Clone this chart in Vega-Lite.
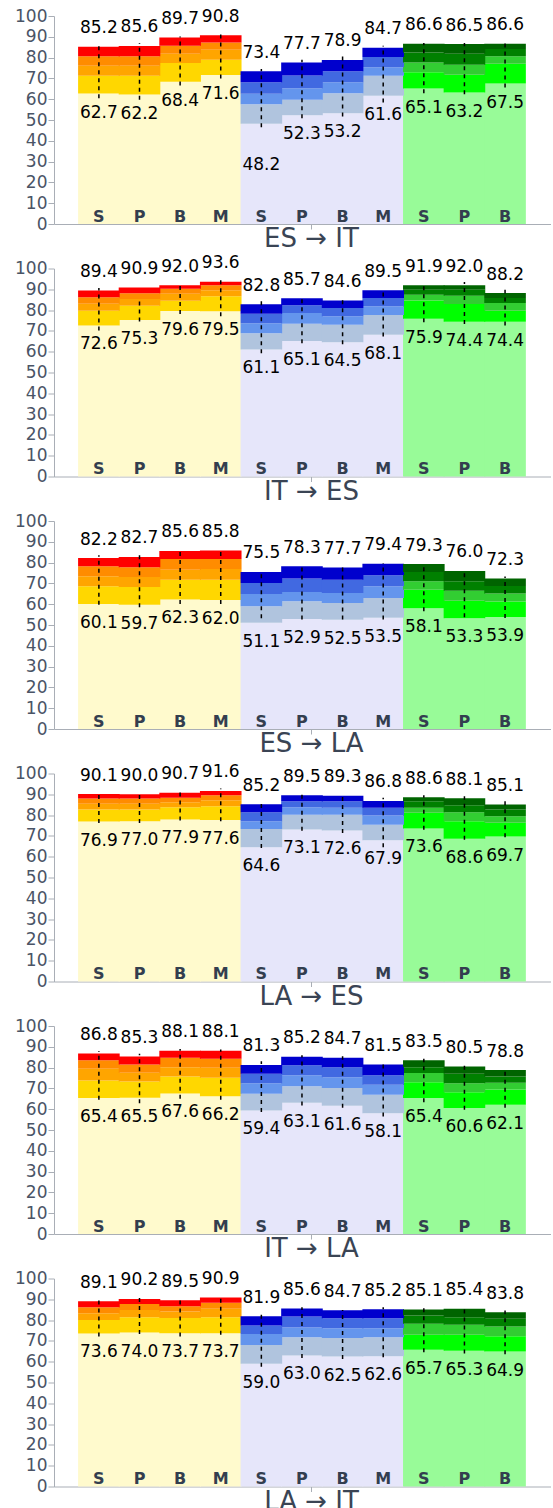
{
"$schema": "https://vega.github.io/schema/vega-lite/v6.json",
"padding": {"left": 14, "top": 7, "right": 0, "bottom": 0},
"background": "white",
"bounds": "flush",
"spacing": 44.5,
"datasets": {"d": [
{"p":0,"i":0,"g":"Y","s":"S","a":62.7,"b":71.3,"c":76.1,"d":80.6,"e":85.2,"l":60.5,"h":85.7},
{"p":0,"i":1,"g":"Y","s":"P","a":62.2,"b":71.3,"c":76.1,"d":80.6,"e":85.6,"l":59.7,"h":87.0},
{"p":0,"i":2,"g":"Y","s":"B","a":68.4,"b":77.4,"c":81.9,"d":85.7,"e":89.7,"l":66.6,"h":90.2},
{"p":0,"i":3,"g":"Y","s":"M","a":71.6,"b":79.0,"c":83.8,"d":87.3,"e":90.8,"l":70.0,"h":92.0},
{"p":0,"i":4,"g":"B","s":"S","a":48.2,"b":57.6,"c":62.6,"d":68.1,"e":73.4,"l":46.5,"h":74.5},
{"p":0,"i":5,"g":"B","s":"P","a":52.3,"b":59.7,"c":65.3,"d":71.4,"e":77.7,"l":50.9,"h":79.0},
{"p":0,"i":6,"g":"B","s":"B","a":53.2,"b":62.9,"c":68.1,"d":73.4,"e":78.9,"l":51.7,"h":82.5},
{"p":0,"i":7,"g":"B","s":"M","a":61.6,"b":71.3,"c":75.4,"d":80.3,"e":84.7,"l":58.4,"h":85.7},
{"p":0,"i":8,"g":"G","s":"S","a":65.1,"b":72.9,"c":77.7,"d":82.5,"e":86.6,"l":62.9,"h":87.0},
{"p":0,"i":9,"g":"G","s":"P","a":63.2,"b":71.7,"c":76.6,"d":81.9,"e":86.5,"l":62.4,"h":87.0},
{"p":0,"i":10,"g":"G","s":"B","a":67.5,"b":77.0,"c":80.6,"d":84.1,"e":86.6,"l":65.6,"h":87.0},
{"p":1,"i":0,"g":"Y","s":"S","a":72.6,"b":79.7,"c":83.1,"d":86.2,"e":89.4,"l":70.2,"h":90.6},
{"p":1,"i":1,"g":"Y","s":"P","a":75.3,"b":82.1,"c":85.3,"d":88.1,"e":90.9,"l":74.5,"h":85.8},
{"p":1,"i":2,"g":"Y","s":"B","a":79.6,"b":84.5,"c":87.9,"d":90.3,"e":92.0,"l":78.1,"h":92.5},
{"p":1,"i":3,"g":"Y","s":"M","a":79.5,"b":86.6,"c":89.5,"d":91.9,"e":93.6,"l":77.0,"h":94.6},
{"p":1,"i":4,"g":"B","s":"S","a":61.1,"b":68.9,"c":73.7,"d":78.2,"e":82.8,"l":59.3,"h":84.5},
{"p":1,"i":5,"g":"B","s":"P","a":65.1,"b":73.4,"c":78.6,"d":82.3,"e":85.7,"l":64.1,"h":86.6},
{"p":1,"i":6,"g":"B","s":"B","a":64.5,"b":73.0,"c":77.0,"d":81.0,"e":84.6,"l":63.6,"h":85.5},
{"p":1,"i":7,"g":"B","s":"M","a":68.1,"b":77.7,"c":81.8,"d":85.8,"e":89.5,"l":67.3,"h":90.3},
{"p":1,"i":8,"g":"G","s":"S","a":75.9,"b":84.6,"c":87.4,"d":89.8,"e":91.9,"l":74.2,"h":93.0},
{"p":1,"i":9,"g":"G","s":"P","a":74.4,"b":82.9,"c":86.9,"d":89.8,"e":92.0,"l":73.3,"h":93.5},
{"p":1,"i":10,"g":"G","s":"B","a":74.4,"b":79.7,"c":83.4,"d":85.8,"e":88.2,"l":72.6,"h":89.8},
{"p":2,"i":0,"g":"Y","s":"S","a":60.1,"b":68.6,"c":73.4,"d":78.2,"e":82.2,"l":59.7,"h":83.5},
{"p":2,"i":1,"g":"Y","s":"P","a":59.7,"b":68.3,"c":73.1,"d":77.8,"e":82.7,"l":58.5,"h":84.2},
{"p":2,"i":2,"g":"Y","s":"B","a":62.3,"b":71.8,"c":76.6,"d":81.7,"e":85.6,"l":60.1,"h":87.0},
{"p":2,"i":3,"g":"Y","s":"M","a":62.0,"b":71.8,"c":76.9,"d":81.7,"e":85.8,"l":60.1,"h":87.0},
{"p":2,"i":4,"g":"B","s":"S","a":51.1,"b":59.0,"c":64.9,"d":70.2,"e":75.5,"l":53.3,"h":74.5},
{"p":2,"i":5,"g":"B","s":"P","a":52.9,"b":61.4,"c":65.9,"d":72.3,"e":78.3,"l":52.6,"h":79.4},
{"p":2,"i":6,"g":"B","s":"B","a":52.5,"b":60.6,"c":65.4,"d":71.8,"e":77.7,"l":52.6,"h":79.0},
{"p":2,"i":7,"g":"B","s":"M","a":53.5,"b":63.0,"c":68.6,"d":73.9,"e":79.4,"l":52.6,"h":79.8},
{"p":2,"i":8,"g":"G","s":"S","a":58.1,"b":67.0,"c":71.0,"d":75.5,"e":79.3,"l":56.6,"h":79.4},
{"p":2,"i":9,"g":"G","s":"P","a":53.3,"b":61.7,"c":66.5,"d":71.0,"e":76.0,"l":53.7,"h":76.6},
{"p":2,"i":10,"g":"G","s":"B","a":53.9,"b":61.3,"c":65.1,"d":68.8,"e":72.3,"l":53.4,"h":73.3},
{"p":3,"i":0,"g":"Y","s":"S","a":76.9,"b":82.7,"c":85.4,"d":88.0,"e":90.1,"l":76.2,"h":91.5},
{"p":3,"i":1,"g":"Y","s":"P","a":77.0,"b":82.7,"c":85.4,"d":88.0,"e":90.0,"l":76.2,"h":91.2},
{"p":3,"i":2,"g":"Y","s":"B","a":77.9,"b":83.8,"c":86.2,"d":88.3,"e":90.7,"l":77.4,"h":91.5},
{"p":3,"i":3,"g":"Y","s":"M","a":77.6,"b":84.3,"c":87.1,"d":89.6,"e":91.6,"l":77.0,"h":92.8},
{"p":3,"i":4,"g":"B","s":"S","a":64.6,"b":73.3,"c":77.0,"d":81.4,"e":85.2,"l":64.2,"h":86.7},
{"p":3,"i":5,"g":"B","s":"P","a":73.1,"b":80.2,"c":83.8,"d":86.7,"e":89.5,"l":72.5,"h":90.7},
{"p":3,"i":6,"g":"B","s":"B","a":72.6,"b":80.2,"c":83.5,"d":86.7,"e":89.3,"l":71.4,"h":90.2},
{"p":3,"i":7,"g":"B","s":"M","a":67.9,"b":75.4,"c":79.8,"d":83.5,"e":86.8,"l":64.5,"h":88.3},
{"p":3,"i":8,"g":"G","s":"S","a":73.6,"b":81.1,"c":83.5,"d":86.7,"e":88.6,"l":73.0,"h":89.6},
{"p":3,"i":9,"g":"G","s":"P","a":68.6,"b":77.0,"c":81.4,"d":84.7,"e":88.1,"l":68.2,"h":89.1},
{"p":3,"i":10,"g":"G","s":"B","a":69.7,"b":76.3,"c":79.5,"d":82.7,"e":85.1,"l":69.3,"h":86.7},
{"p":4,"i":0,"g":"Y","s":"S","a":65.4,"b":73.8,"c":79.4,"d":83.5,"e":86.8,"l":64.5,"h":88.0},
{"p":4,"i":1,"g":"Y","s":"P","a":65.5,"b":73.3,"c":77.5,"d":81.5,"e":85.3,"l":62.9,"h":86.7},
{"p":4,"i":2,"g":"Y","s":"B","a":67.6,"b":75.7,"c":80.2,"d":84.7,"e":88.1,"l":65.0,"h":89.0},
{"p":4,"i":3,"g":"Y","s":"M","a":66.2,"b":75.1,"c":79.9,"d":84.3,"e":88.1,"l":64.5,"h":88.7},
{"p":4,"i":4,"g":"B","s":"S","a":59.4,"b":67.4,"c":72.5,"d":77.0,"e":81.3,"l":58.6,"h":83.1},
{"p":4,"i":5,"g":"B","s":"P","a":63.1,"b":71.0,"c":76.3,"d":81.1,"e":85.2,"l":61.8,"h":85.9},
{"p":4,"i":6,"g":"B","s":"B","a":61.6,"b":70.2,"c":75.4,"d":80.2,"e":84.7,"l":60.7,"h":85.4},
{"p":4,"i":7,"g":"B","s":"M","a":58.1,"b":66.9,"c":71.7,"d":76.3,"e":81.5,"l":56.5,"h":82.7},
{"p":4,"i":8,"g":"G","s":"S","a":65.4,"b":73.0,"c":77.4,"d":80.2,"e":83.5,"l":63.4,"h":84.3},
{"p":4,"i":9,"g":"G","s":"P","a":60.6,"b":68.2,"c":72.5,"d":77.0,"e":80.5,"l":59.7,"h":81.0},
{"p":4,"i":10,"g":"G","s":"B","a":62.1,"b":69.5,"c":72.7,"d":75.7,"e":78.8,"l":60.7,"h":79.0},
{"p":5,"i":0,"g":"Y","s":"S","a":73.6,"b":80.1,"c":83.3,"d":86.2,"e":89.1,"l":72.1,"h":89.7},
{"p":5,"i":1,"g":"Y","s":"P","a":74.0,"b":81.4,"c":84.9,"d":87.8,"e":90.2,"l":73.3,"h":91.0},
{"p":5,"i":2,"g":"Y","s":"B","a":73.7,"b":81.0,"c":84.1,"d":86.7,"e":89.5,"l":72.1,"h":90.7},
{"p":5,"i":3,"g":"Y","s":"M","a":73.7,"b":81.4,"c":85.4,"d":88.3,"e":90.9,"l":73.0,"h":91.3},
{"p":5,"i":4,"g":"B","s":"S","a":59.0,"b":68.0,"c":73.3,"d":77.4,"e":81.9,"l":57.6,"h":83.0},
{"p":5,"i":5,"g":"B","s":"P","a":63.0,"b":71.7,"c":76.5,"d":81.7,"e":85.6,"l":61.8,"h":86.2},
{"p":5,"i":6,"g":"B","s":"B","a":62.5,"b":71.4,"c":76.1,"d":80.9,"e":84.7,"l":61.3,"h":84.9},
{"p":5,"i":7,"g":"B","s":"M","a":62.6,"b":71.7,"c":76.1,"d":80.9,"e":85.2,"l":62.1,"h":86.2},
{"p":5,"i":8,"g":"G","s":"S","a":65.7,"b":72.9,"c":78.2,"d":82.2,"e":85.1,"l":64.5,"h":86.2},
{"p":5,"i":9,"g":"G","s":"P","a":65.3,"b":72.9,"c":77.8,"d":81.4,"e":85.4,"l":64.0,"h":86.2},
{"p":5,"i":10,"g":"G","s":"B","a":64.9,"b":72.2,"c":76.9,"d":80.7,"e":83.8,"l":63.6,"h":84.6}
]},
"vconcat": [
{"width": 497, "height": 208, "data": {"name": "d"}, "transform": [{"filter": "datum.p == 0"}],
 "encoding": {"x": {"field": "i", "type": "quantitative", "scale": {"domain": [-0.982, 11.008], "nice": false, "zero": false}, "axis": {"values": [5.218], "title": "ES → IT"}}},
 "layer": [
  {"mark": {"type": "bar", "width": 41.6}, "encoding": {"y": {"field": "a", "type": "quantitative", "scale": {"domain": [0, 100], "nice": false}, "title": null}, "y2": {"datum": 0}, "color": {"condition": [{"test": "datum.g == 'Y'", "value": "#FFFACD"}, {"test": "datum.g == 'B'", "value": "#E6E6FA"}], "value": "#98FB98"}}},
  {"mark": {"type": "bar", "width": 41.6}, "encoding": {"y": {"field": "b", "type": "quantitative", "scale": {"domain": [0, 100], "nice": false}, "title": null}, "y2": {"field": "a"}, "color": {"condition": [{"test": "datum.g == 'Y'", "value": "#FFD700"}, {"test": "datum.g == 'B'", "value": "#B0C4DE"}], "value": "#00FF00"}}},
  {"mark": {"type": "bar", "width": 41.6}, "encoding": {"y": {"field": "c", "type": "quantitative", "scale": {"domain": [0, 100], "nice": false}, "title": null}, "y2": {"field": "b"}, "color": {"condition": [{"test": "datum.g == 'Y'", "value": "#FFA500"}, {"test": "datum.g == 'B'", "value": "#6495ED"}], "value": "#32CD32"}}},
  {"mark": {"type": "bar", "width": 41.6}, "encoding": {"y": {"field": "d", "type": "quantitative", "scale": {"domain": [0, 100], "nice": false}, "title": null}, "y2": {"field": "c"}, "color": {"condition": [{"test": "datum.g == 'Y'", "value": "#FF8C00"}, {"test": "datum.g == 'B'", "value": "#4169E1"}], "value": "#008000"}}},
  {"mark": {"type": "bar", "width": 41.6}, "encoding": {"y": {"field": "e", "type": "quantitative", "scale": {"domain": [0, 100], "nice": false}, "title": null}, "y2": {"field": "d"}, "color": {"condition": [{"test": "datum.g == 'Y'", "value": "#FF0000"}, {"test": "datum.g == 'B'", "value": "#0000CD"}], "value": "#006400"}}},
  {"mark": {"type": "rule", "strokeDash": [4, 4], "strokeWidth": 1.5, "color": "black"}, "encoding": {"y": {"field": "l", "type": "quantitative", "scale": {"domain": [0, 100], "nice": false}, "title": null}, "y2": {"field": "h"}}},
  {"mark": {"type": "text", "baseline": "middle", "dy": -18.5, "fontSize": 17, "color": "black"}, "encoding": {"y": {"field": "e", "type": "quantitative", "scale": {"domain": [0, 100], "nice": false}, "title": null}, "text": {"field": "e", "type": "quantitative", "format": ".1f"}}},
  {"transform": [{"filter": "!(datum.p == 0 && datum.i == 4)"}], "mark": {"type": "text", "baseline": "middle", "dy": 19, "fontSize": 17, "color": "black"}, "encoding": {"y": {"field": "a", "type": "quantitative", "scale": {"domain": [0, 100], "nice": false}, "title": null}, "text": {"field": "a", "type": "quantitative", "format": ".1f"}}},
  {"transform": [{"filter": "datum.p == 0 && datum.i == 4"}], "mark": {"type": "text", "baseline": "middle", "dy": 41, "fontSize": 17, "color": "black"}, "encoding": {"y": {"field": "a", "type": "quantitative", "scale": {"domain": [0, 100], "nice": false}, "title": null}, "text": {"field": "a", "type": "quantitative", "format": ".1f"}}},
  {"mark": {"type": "text", "baseline": "middle", "dy": -7.5, "fontSize": 16, "fontWeight": "bold", "color": "#333e4f"}, "encoding": {"y": {"datum": 0, "type": "quantitative", "scale": {"domain": [0, 100], "nice": false}, "title": null}, "text": {"field": "s"}}}
 ]},
{"width": 497, "height": 208, "data": {"name": "d"}, "transform": [{"filter": "datum.p == 1"}],
 "encoding": {"x": {"field": "i", "type": "quantitative", "scale": {"domain": [-0.982, 11.008], "nice": false, "zero": false}, "axis": {"values": [5.218], "title": "IT → ES"}}},
 "layer": [
  {"mark": {"type": "bar", "width": 41.6}, "encoding": {"y": {"field": "a", "type": "quantitative", "scale": {"domain": [0, 100], "nice": false}, "title": null}, "y2": {"datum": 0}, "color": {"condition": [{"test": "datum.g == 'Y'", "value": "#FFFACD"}, {"test": "datum.g == 'B'", "value": "#E6E6FA"}], "value": "#98FB98"}}},
  {"mark": {"type": "bar", "width": 41.6}, "encoding": {"y": {"field": "b", "type": "quantitative", "scale": {"domain": [0, 100], "nice": false}, "title": null}, "y2": {"field": "a"}, "color": {"condition": [{"test": "datum.g == 'Y'", "value": "#FFD700"}, {"test": "datum.g == 'B'", "value": "#B0C4DE"}], "value": "#00FF00"}}},
  {"mark": {"type": "bar", "width": 41.6}, "encoding": {"y": {"field": "c", "type": "quantitative", "scale": {"domain": [0, 100], "nice": false}, "title": null}, "y2": {"field": "b"}, "color": {"condition": [{"test": "datum.g == 'Y'", "value": "#FFA500"}, {"test": "datum.g == 'B'", "value": "#6495ED"}], "value": "#32CD32"}}},
  {"mark": {"type": "bar", "width": 41.6}, "encoding": {"y": {"field": "d", "type": "quantitative", "scale": {"domain": [0, 100], "nice": false}, "title": null}, "y2": {"field": "c"}, "color": {"condition": [{"test": "datum.g == 'Y'", "value": "#FF8C00"}, {"test": "datum.g == 'B'", "value": "#4169E1"}], "value": "#008000"}}},
  {"mark": {"type": "bar", "width": 41.6}, "encoding": {"y": {"field": "e", "type": "quantitative", "scale": {"domain": [0, 100], "nice": false}, "title": null}, "y2": {"field": "d"}, "color": {"condition": [{"test": "datum.g == 'Y'", "value": "#FF0000"}, {"test": "datum.g == 'B'", "value": "#0000CD"}], "value": "#006400"}}},
  {"mark": {"type": "rule", "strokeDash": [4, 4], "strokeWidth": 1.5, "color": "black"}, "encoding": {"y": {"field": "l", "type": "quantitative", "scale": {"domain": [0, 100], "nice": false}, "title": null}, "y2": {"field": "h"}}},
  {"mark": {"type": "text", "baseline": "middle", "dy": -18.5, "fontSize": 17, "color": "black"}, "encoding": {"y": {"field": "e", "type": "quantitative", "scale": {"domain": [0, 100], "nice": false}, "title": null}, "text": {"field": "e", "type": "quantitative", "format": ".1f"}}},
  {"mark": {"type": "text", "baseline": "middle", "dy": 19, "fontSize": 17, "color": "black"}, "encoding": {"y": {"field": "a", "type": "quantitative", "scale": {"domain": [0, 100], "nice": false}, "title": null}, "text": {"field": "a", "type": "quantitative", "format": ".1f"}}},
  {"mark": {"type": "text", "baseline": "middle", "dy": -7.5, "fontSize": 16, "fontWeight": "bold", "color": "#333e4f"}, "encoding": {"y": {"datum": 0, "type": "quantitative", "scale": {"domain": [0, 100], "nice": false}, "title": null}, "text": {"field": "s"}}}
 ]},
{"width": 497, "height": 208, "data": {"name": "d"}, "transform": [{"filter": "datum.p == 2"}],
 "encoding": {"x": {"field": "i", "type": "quantitative", "scale": {"domain": [-0.982, 11.008], "nice": false, "zero": false}, "axis": {"values": [5.218], "title": "ES → LA"}}},
 "layer": [
  {"mark": {"type": "bar", "width": 41.6}, "encoding": {"y": {"field": "a", "type": "quantitative", "scale": {"domain": [0, 100], "nice": false}, "title": null}, "y2": {"datum": 0}, "color": {"condition": [{"test": "datum.g == 'Y'", "value": "#FFFACD"}, {"test": "datum.g == 'B'", "value": "#E6E6FA"}], "value": "#98FB98"}}},
  {"mark": {"type": "bar", "width": 41.6}, "encoding": {"y": {"field": "b", "type": "quantitative", "scale": {"domain": [0, 100], "nice": false}, "title": null}, "y2": {"field": "a"}, "color": {"condition": [{"test": "datum.g == 'Y'", "value": "#FFD700"}, {"test": "datum.g == 'B'", "value": "#B0C4DE"}], "value": "#00FF00"}}},
  {"mark": {"type": "bar", "width": 41.6}, "encoding": {"y": {"field": "c", "type": "quantitative", "scale": {"domain": [0, 100], "nice": false}, "title": null}, "y2": {"field": "b"}, "color": {"condition": [{"test": "datum.g == 'Y'", "value": "#FFA500"}, {"test": "datum.g == 'B'", "value": "#6495ED"}], "value": "#32CD32"}}},
  {"mark": {"type": "bar", "width": 41.6}, "encoding": {"y": {"field": "d", "type": "quantitative", "scale": {"domain": [0, 100], "nice": false}, "title": null}, "y2": {"field": "c"}, "color": {"condition": [{"test": "datum.g == 'Y'", "value": "#FF8C00"}, {"test": "datum.g == 'B'", "value": "#4169E1"}], "value": "#008000"}}},
  {"mark": {"type": "bar", "width": 41.6}, "encoding": {"y": {"field": "e", "type": "quantitative", "scale": {"domain": [0, 100], "nice": false}, "title": null}, "y2": {"field": "d"}, "color": {"condition": [{"test": "datum.g == 'Y'", "value": "#FF0000"}, {"test": "datum.g == 'B'", "value": "#0000CD"}], "value": "#006400"}}},
  {"mark": {"type": "rule", "strokeDash": [4, 4], "strokeWidth": 1.5, "color": "black"}, "encoding": {"y": {"field": "l", "type": "quantitative", "scale": {"domain": [0, 100], "nice": false}, "title": null}, "y2": {"field": "h"}}},
  {"mark": {"type": "text", "baseline": "middle", "dy": -18.5, "fontSize": 17, "color": "black"}, "encoding": {"y": {"field": "e", "type": "quantitative", "scale": {"domain": [0, 100], "nice": false}, "title": null}, "text": {"field": "e", "type": "quantitative", "format": ".1f"}}},
  {"mark": {"type": "text", "baseline": "middle", "dy": 19, "fontSize": 17, "color": "black"}, "encoding": {"y": {"field": "a", "type": "quantitative", "scale": {"domain": [0, 100], "nice": false}, "title": null}, "text": {"field": "a", "type": "quantitative", "format": ".1f"}}},
  {"mark": {"type": "text", "baseline": "middle", "dy": -7.5, "fontSize": 16, "fontWeight": "bold", "color": "#333e4f"}, "encoding": {"y": {"datum": 0, "type": "quantitative", "scale": {"domain": [0, 100], "nice": false}, "title": null}, "text": {"field": "s"}}}
 ]},
{"width": 497, "height": 208, "data": {"name": "d"}, "transform": [{"filter": "datum.p == 3"}],
 "encoding": {"x": {"field": "i", "type": "quantitative", "scale": {"domain": [-0.982, 11.008], "nice": false, "zero": false}, "axis": {"values": [5.218], "title": "LA → ES"}}},
 "layer": [
  {"mark": {"type": "bar", "width": 41.6}, "encoding": {"y": {"field": "a", "type": "quantitative", "scale": {"domain": [0, 100], "nice": false}, "title": null}, "y2": {"datum": 0}, "color": {"condition": [{"test": "datum.g == 'Y'", "value": "#FFFACD"}, {"test": "datum.g == 'B'", "value": "#E6E6FA"}], "value": "#98FB98"}}},
  {"mark": {"type": "bar", "width": 41.6}, "encoding": {"y": {"field": "b", "type": "quantitative", "scale": {"domain": [0, 100], "nice": false}, "title": null}, "y2": {"field": "a"}, "color": {"condition": [{"test": "datum.g == 'Y'", "value": "#FFD700"}, {"test": "datum.g == 'B'", "value": "#B0C4DE"}], "value": "#00FF00"}}},
  {"mark": {"type": "bar", "width": 41.6}, "encoding": {"y": {"field": "c", "type": "quantitative", "scale": {"domain": [0, 100], "nice": false}, "title": null}, "y2": {"field": "b"}, "color": {"condition": [{"test": "datum.g == 'Y'", "value": "#FFA500"}, {"test": "datum.g == 'B'", "value": "#6495ED"}], "value": "#32CD32"}}},
  {"mark": {"type": "bar", "width": 41.6}, "encoding": {"y": {"field": "d", "type": "quantitative", "scale": {"domain": [0, 100], "nice": false}, "title": null}, "y2": {"field": "c"}, "color": {"condition": [{"test": "datum.g == 'Y'", "value": "#FF8C00"}, {"test": "datum.g == 'B'", "value": "#4169E1"}], "value": "#008000"}}},
  {"mark": {"type": "bar", "width": 41.6}, "encoding": {"y": {"field": "e", "type": "quantitative", "scale": {"domain": [0, 100], "nice": false}, "title": null}, "y2": {"field": "d"}, "color": {"condition": [{"test": "datum.g == 'Y'", "value": "#FF0000"}, {"test": "datum.g == 'B'", "value": "#0000CD"}], "value": "#006400"}}},
  {"mark": {"type": "rule", "strokeDash": [4, 4], "strokeWidth": 1.5, "color": "black"}, "encoding": {"y": {"field": "l", "type": "quantitative", "scale": {"domain": [0, 100], "nice": false}, "title": null}, "y2": {"field": "h"}}},
  {"mark": {"type": "text", "baseline": "middle", "dy": -18.5, "fontSize": 17, "color": "black"}, "encoding": {"y": {"field": "e", "type": "quantitative", "scale": {"domain": [0, 100], "nice": false}, "title": null}, "text": {"field": "e", "type": "quantitative", "format": ".1f"}}},
  {"mark": {"type": "text", "baseline": "middle", "dy": 19, "fontSize": 17, "color": "black"}, "encoding": {"y": {"field": "a", "type": "quantitative", "scale": {"domain": [0, 100], "nice": false}, "title": null}, "text": {"field": "a", "type": "quantitative", "format": ".1f"}}},
  {"mark": {"type": "text", "baseline": "middle", "dy": -7.5, "fontSize": 16, "fontWeight": "bold", "color": "#333e4f"}, "encoding": {"y": {"datum": 0, "type": "quantitative", "scale": {"domain": [0, 100], "nice": false}, "title": null}, "text": {"field": "s"}}}
 ]},
{"width": 497, "height": 208, "data": {"name": "d"}, "transform": [{"filter": "datum.p == 4"}],
 "encoding": {"x": {"field": "i", "type": "quantitative", "scale": {"domain": [-0.982, 11.008], "nice": false, "zero": false}, "axis": {"values": [5.218], "title": "IT → LA"}}},
 "layer": [
  {"mark": {"type": "bar", "width": 41.6}, "encoding": {"y": {"field": "a", "type": "quantitative", "scale": {"domain": [0, 100], "nice": false}, "title": null}, "y2": {"datum": 0}, "color": {"condition": [{"test": "datum.g == 'Y'", "value": "#FFFACD"}, {"test": "datum.g == 'B'", "value": "#E6E6FA"}], "value": "#98FB98"}}},
  {"mark": {"type": "bar", "width": 41.6}, "encoding": {"y": {"field": "b", "type": "quantitative", "scale": {"domain": [0, 100], "nice": false}, "title": null}, "y2": {"field": "a"}, "color": {"condition": [{"test": "datum.g == 'Y'", "value": "#FFD700"}, {"test": "datum.g == 'B'", "value": "#B0C4DE"}], "value": "#00FF00"}}},
  {"mark": {"type": "bar", "width": 41.6}, "encoding": {"y": {"field": "c", "type": "quantitative", "scale": {"domain": [0, 100], "nice": false}, "title": null}, "y2": {"field": "b"}, "color": {"condition": [{"test": "datum.g == 'Y'", "value": "#FFA500"}, {"test": "datum.g == 'B'", "value": "#6495ED"}], "value": "#32CD32"}}},
  {"mark": {"type": "bar", "width": 41.6}, "encoding": {"y": {"field": "d", "type": "quantitative", "scale": {"domain": [0, 100], "nice": false}, "title": null}, "y2": {"field": "c"}, "color": {"condition": [{"test": "datum.g == 'Y'", "value": "#FF8C00"}, {"test": "datum.g == 'B'", "value": "#4169E1"}], "value": "#008000"}}},
  {"mark": {"type": "bar", "width": 41.6}, "encoding": {"y": {"field": "e", "type": "quantitative", "scale": {"domain": [0, 100], "nice": false}, "title": null}, "y2": {"field": "d"}, "color": {"condition": [{"test": "datum.g == 'Y'", "value": "#FF0000"}, {"test": "datum.g == 'B'", "value": "#0000CD"}], "value": "#006400"}}},
  {"mark": {"type": "rule", "strokeDash": [4, 4], "strokeWidth": 1.5, "color": "black"}, "encoding": {"y": {"field": "l", "type": "quantitative", "scale": {"domain": [0, 100], "nice": false}, "title": null}, "y2": {"field": "h"}}},
  {"mark": {"type": "text", "baseline": "middle", "dy": -18.5, "fontSize": 17, "color": "black"}, "encoding": {"y": {"field": "e", "type": "quantitative", "scale": {"domain": [0, 100], "nice": false}, "title": null}, "text": {"field": "e", "type": "quantitative", "format": ".1f"}}},
  {"mark": {"type": "text", "baseline": "middle", "dy": 19, "fontSize": 17, "color": "black"}, "encoding": {"y": {"field": "a", "type": "quantitative", "scale": {"domain": [0, 100], "nice": false}, "title": null}, "text": {"field": "a", "type": "quantitative", "format": ".1f"}}},
  {"mark": {"type": "text", "baseline": "middle", "dy": -7.5, "fontSize": 16, "fontWeight": "bold", "color": "#333e4f"}, "encoding": {"y": {"datum": 0, "type": "quantitative", "scale": {"domain": [0, 100], "nice": false}, "title": null}, "text": {"field": "s"}}}
 ]},
{"width": 497, "height": 208, "data": {"name": "d"}, "transform": [{"filter": "datum.p == 5"}],
 "encoding": {"x": {"field": "i", "type": "quantitative", "scale": {"domain": [-0.982, 11.008], "nice": false, "zero": false}, "axis": {"values": [5.218], "title": "LA → IT"}}},
 "layer": [
  {"mark": {"type": "bar", "width": 41.6}, "encoding": {"y": {"field": "a", "type": "quantitative", "scale": {"domain": [0, 100], "nice": false}, "title": null}, "y2": {"datum": 0}, "color": {"condition": [{"test": "datum.g == 'Y'", "value": "#FFFACD"}, {"test": "datum.g == 'B'", "value": "#E6E6FA"}], "value": "#98FB98"}}},
  {"mark": {"type": "bar", "width": 41.6}, "encoding": {"y": {"field": "b", "type": "quantitative", "scale": {"domain": [0, 100], "nice": false}, "title": null}, "y2": {"field": "a"}, "color": {"condition": [{"test": "datum.g == 'Y'", "value": "#FFD700"}, {"test": "datum.g == 'B'", "value": "#B0C4DE"}], "value": "#00FF00"}}},
  {"mark": {"type": "bar", "width": 41.6}, "encoding": {"y": {"field": "c", "type": "quantitative", "scale": {"domain": [0, 100], "nice": false}, "title": null}, "y2": {"field": "b"}, "color": {"condition": [{"test": "datum.g == 'Y'", "value": "#FFA500"}, {"test": "datum.g == 'B'", "value": "#6495ED"}], "value": "#32CD32"}}},
  {"mark": {"type": "bar", "width": 41.6}, "encoding": {"y": {"field": "d", "type": "quantitative", "scale": {"domain": [0, 100], "nice": false}, "title": null}, "y2": {"field": "c"}, "color": {"condition": [{"test": "datum.g == 'Y'", "value": "#FF8C00"}, {"test": "datum.g == 'B'", "value": "#4169E1"}], "value": "#008000"}}},
  {"mark": {"type": "bar", "width": 41.6}, "encoding": {"y": {"field": "e", "type": "quantitative", "scale": {"domain": [0, 100], "nice": false}, "title": null}, "y2": {"field": "d"}, "color": {"condition": [{"test": "datum.g == 'Y'", "value": "#FF0000"}, {"test": "datum.g == 'B'", "value": "#0000CD"}], "value": "#006400"}}},
  {"mark": {"type": "rule", "strokeDash": [4, 4], "strokeWidth": 1.5, "color": "black"}, "encoding": {"y": {"field": "l", "type": "quantitative", "scale": {"domain": [0, 100], "nice": false}, "title": null}, "y2": {"field": "h"}}},
  {"mark": {"type": "text", "baseline": "middle", "dy": -18.5, "fontSize": 17, "color": "black"}, "encoding": {"y": {"field": "e", "type": "quantitative", "scale": {"domain": [0, 100], "nice": false}, "title": null}, "text": {"field": "e", "type": "quantitative", "format": ".1f"}}},
  {"mark": {"type": "text", "baseline": "middle", "dy": 19, "fontSize": 17, "color": "black"}, "encoding": {"y": {"field": "a", "type": "quantitative", "scale": {"domain": [0, 100], "nice": false}, "title": null}, "text": {"field": "a", "type": "quantitative", "format": ".1f"}}},
  {"mark": {"type": "text", "baseline": "middle", "dy": -7.5, "fontSize": 16, "fontWeight": "bold", "color": "#333e4f"}, "encoding": {"y": {"datum": 0, "type": "quantitative", "scale": {"domain": [0, 100], "nice": false}, "title": null}, "text": {"field": "s"}}}
 ]}
],
"config": {
 "font": "DejaVu Sans",
 "view": {"stroke": null},
 "axisX": {"labels": false, "grid": false, "ticks": true, "tickSize": 5, "tickColor": "#a9aeb6", "domainColor": "#a9aeb6", "domainWidth": 1, "titleX": 257, "titleFontSize": 26, "titleFontWeight": "normal", "titleColor": "#3a4454", "titlePadding": -4},
 "axisY": {"tickCount": 11, "grid": false, "tickSize": 6, "tickColor": "#a9aeb6", "domainColor": "#a9aeb6", "labelFontSize": 17, "labelColor": "#4a5466", "labelPadding": 1}
}
}
